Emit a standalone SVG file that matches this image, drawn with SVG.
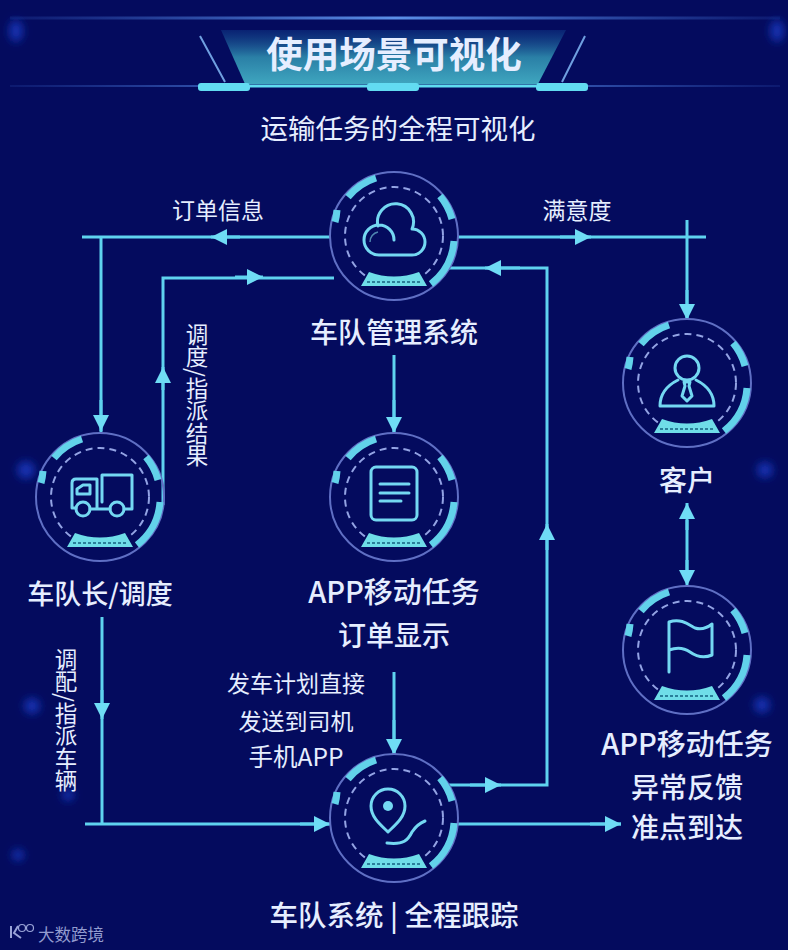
<svg xmlns="http://www.w3.org/2000/svg" width="788" height="950" viewBox="0 0 788 950">
<style>
text{font-family:"Noto Sans CJK SC","Liberation Sans",sans-serif;fill:#e6eeff;text-anchor:middle}
.big{font-size:28px;font-weight:500}
.app{font-size:29px;font-weight:500}
.mid{font-size:23px}
.vert{font-size:22.500px;writing-mode:vertical-rl;text-anchor:start}
.c{fill:none;stroke:#5fd3ef;stroke-width:3}
.a{fill:none;stroke:#5fd3ef;stroke-width:3;marker-end:url(#tip)}
.ic{fill:none;stroke:#74d8f2;stroke-width:3;stroke-linecap:round;stroke-linejoin:round}
.glow{fill:#1230b0;filter:url(#bl)}
</style>
<defs>
<marker id="tip" markerUnits="userSpaceOnUse" viewBox="0 0 16 16" refX="16" refY="8" markerWidth="16" markerHeight="16" orient="auto-start-reverse"><path d="M0 0L16 8L0 16Z" fill="#6fdcf5"/></marker>
<filter id="bl" x="-100%" y="-100%" width="300%" height="300%"><feGaussianBlur stdDeviation="4"/></filter>
<linearGradient id="ban" x1="0" y1="0" x2="0" y2="1"><stop offset="0" stop-color="#0f3a88" stop-opacity=".5"/><stop offset=".5" stop-color="#2a7fa6"/><stop offset="1" stop-color="#3fa6bf"/></linearGradient>
<linearGradient id="fade" x1="0" y1="0" x2="1" y2="0"><stop offset="0" stop-color="#3d6ad0" stop-opacity=".15"/><stop offset=".5" stop-color="#5c90e8"/><stop offset="1" stop-color="#3d6ad0" stop-opacity=".15"/></linearGradient>
<g id="ring">
<circle r="64" fill="none" stroke="#5f6fc4" stroke-width="2"/>
<circle r="49" fill="none" stroke="#93a3e4" stroke-width="2" stroke-dasharray="7 5"/>
<path d="M-46 -39A60 60 0 0 1 -18 -58M-57 -26A60 60 0 0 1 -59 -14M46 -40A60 60 0 0 1 58 -17M60 5A60 60 0 0 1 37 48" fill="none" stroke="#62d2ea" stroke-width="7"/>
<path d="M-33 50H33L25 36Q0 45 -25 36Z" fill="#6fdde8"/>
<path d="M-27 46H27" stroke="#2a7f9a" stroke-width="2" stroke-dasharray="3 2"/>
</g>
</defs>
<rect width="788" height="950" fill="#040b5e"/>
<g id="background-glows">
<ellipse class="glow" cx="16" cy="31" rx="7" ry="11"/>
<ellipse class="glow" cx="777" cy="31" rx="7" ry="11"/>
<circle class="glow" cx="26" cy="470" r="9"/>
<circle class="glow" cx="765" cy="470" r="8"/>
<circle class="glow" cx="762" cy="705" r="8"/>
<circle class="glow" cx="32" cy="706" r="8"/>
<circle class="glow" cx="18" cy="855" r="6"/>
<circle class="glow" cx="68" cy="795" r="6"/>
</g>
<g id="header">
<rect x="10" y="16.500" width="770" height="3" fill="url(#fade)"/>
<rect x="10" y="85" width="770" height="2" fill="url(#fade)"/>
<path d="M221 30H566L538 84H245Z" fill="url(#ban)"/>
<path d="M200 36L225 82M585 36L562 82" stroke="#6f9fe0" stroke-width="2" fill="none"/>
<path d="M250 86H536" stroke="#5fdcf0" stroke-width="3"/>
<rect x="198" y="83" width="52" height="8" rx="3" fill="#62dcf2"/>
<rect x="367" y="83" width="52" height="8" rx="3" fill="#62dcf2"/>
<rect x="536" y="83" width="52" height="8" rx="3" fill="#62dcf2"/>
<text x="394" y="68" font-size="36.500" font-weight="700" fill="#f0fbff">使用场景可视化</text>
<text x="398" y="139" font-size="27.500">运输任务的全程可视化</text>
</g>
<g id="connectors">
<path class="c" d="M82 237H330"/>
<path class="a" d="M240 237H211"/>
<path class="c" d="M101 237V432"/>
<path class="a" d="M101 400V431"/>
<path class="c" d="M163 505V278H334"/>
<path class="a" d="M163 390V367"/>
<path class="a" d="M235 277H263"/>
<path class="c" d="M458 237H706"/>
<path class="a" d="M560 237H591"/>
<path class="c" d="M687 220V320"/>
<path class="a" d="M687 290V320"/>
<path class="c" d="M394 355V432"/>
<path class="a" d="M394 400V433"/>
<path class="c" d="M445 268H547V785H448"/>
<path class="a" d="M520 268H485"/>
<path class="a" d="M547 550V524"/>
<path class="a" d="M470 785H501"/>
<path class="c" d="M102 617V824"/>
<path class="a" d="M102 690V719"/>
<path class="c" d="M85 824H329"/>
<path class="a" d="M300 824H330"/>
<path class="c" d="M394 672V755"/>
<path class="a" d="M394 720V755"/>
<path class="c" d="M458 824H621"/>
<path class="a" d="M590 824H621"/>
<path class="c" d="M687 520V570"/>
<path class="a" d="M687 530V503"/>
<path class="a" d="M687 560V586"/>
</g>
<g id="node-cloud" transform="translate(394 236)">
<use href="#ring"/>
<path class="ic" d="M-15 19H18A13 13 0 0 0 18 -7A18 18 0 1 0 -16 -10M-15 19A15 15 0 1 1 0 4"/>
<path d="M-24 6A10 10 0 0 1 -16 -4" fill="none" stroke="#4f86b0" stroke-width="1.500"/>
</g>
<g id="node-truck" transform="translate(100 497)">
<use href="#ring"/>
<path class="ic" d="M2 5V-22H32V12H24M10 12H-10M-24 11H-28V-14Q-28 -18 -24 -18H-3V11M-23 -3V-8L-17 -12H-10V-3Z"/>
<circle class="ic" cx="-17" cy="12" r="7"/>
<circle class="ic" cx="17" cy="12" r="7"/>
</g>
<g id="node-doc" transform="translate(394 497)">
<use href="#ring"/>
<rect class="ic" x="-23" y="-30" width="46" height="53" rx="5"/>
<path class="ic" d="M-14 -13H15M-14 -4H15M-14 4H7"/>
</g>
<g id="node-person" transform="translate(687 383)">
<use href="#ring"/>
<circle class="ic" cy="-15" r="12"/>
<path class="ic" d="M-27 23H27C27 8 17 1 9 -3M-9 -3C-17 1 -27 8 -27 23M-3 -1H3L2 3L5 13L0 18L-5 13L-2 3Z"/>
</g>
<g id="node-flag" transform="translate(687 650)">
<use href="#ring"/>
<path class="ic" d="M-18 22V-28C-5 -32 2 -25 8 -22C14 -20 20 -22 25 -26V5C18 8 10 7 3 2C-4 -3 -10 -3 -18 0"/>
</g>
<g id="node-pin" transform="translate(394 818)">
<use href="#ring"/>
<path class="ic" d="M-6 14C-12 8 -23 0 -23 -12A17 17 0 0 1 11 -12C11 0 0 8 -6 14Z"/>
<circle cx="-6" cy="-12" r="5" fill="#74d8f2"/>
<path class="ic" d="M-7 25C10 27 14 22 18 14C22 8 26 5 31 3"/>
</g>
<g id="labels">
<text x="218" y="219" class="mid">订单信息</text>
<text x="577" y="219" class="mid">满意度</text>
<text x="394" y="343" class="big">车队管理系统</text>
<text x="197" y="323" class="vert">调度/指派结果</text>
<text x="66" y="648" class="vert">调配/指派车辆</text>
<text x="100" y="604" font-size="27" font-weight="500">车队长/调度</text>
<text x="394" y="603" class="app">APP移动任务</text>
<text x="394" y="646" class="big">订单显示</text>
<text x="296" y="692" class="mid">发车计划直接</text>
<text x="296" y="730" class="mid">发送到司机</text>
<text x="296" y="766" font-size="24.500">手机APP</text>
<text x="687" y="491" class="big">客户</text>
<text x="687" y="755" class="app">APP移动任务</text>
<text x="687" y="798" class="big">异常反馈</text>
<text x="687" y="838" class="big">准点到达</text>
<text x="394" y="926" font-size="28.500" font-weight="500">车队系统 | 全程跟踪</text>
</g>
<g id="watermark">
<path d="M11 926V938M18 926L14 933L21 938" fill="none" stroke="#9aa4d8" stroke-width="2"/>
<circle cx="22" cy="928" r="3.500" fill="none" stroke="#9aa4d8" stroke-width="1.200"/>
<circle cx="30" cy="928" r="3.500" fill="none" stroke="#9aa4d8" stroke-width="1.200"/>
<text x="71" y="941" font-size="16.500" style="fill:#929ccf">大数跨境</text>
</g>
</svg>
